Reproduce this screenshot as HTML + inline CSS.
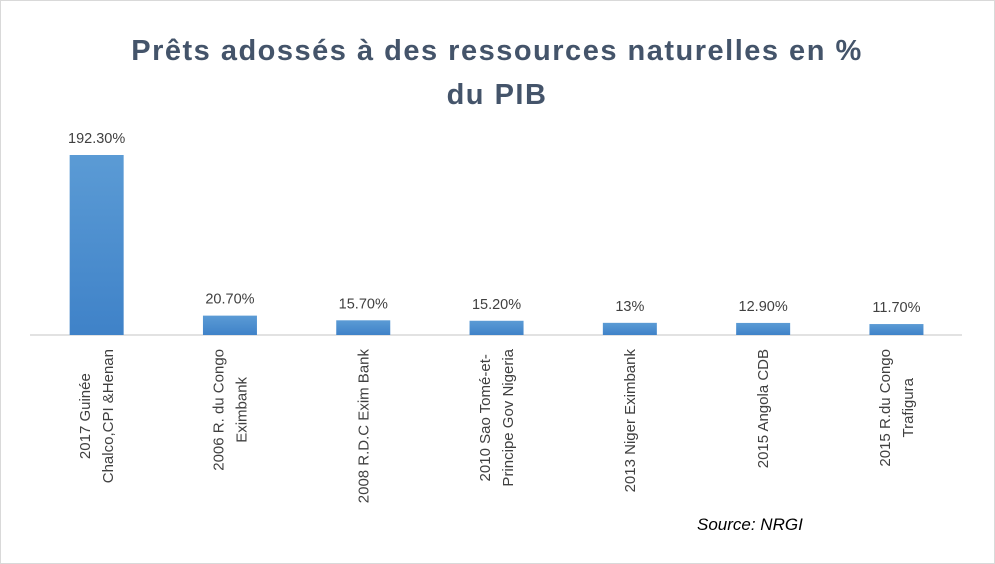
<!DOCTYPE html>
<html><head><meta charset="utf-8"><style>
html,body{margin:0;padding:0;background:#fff}
svg{display:block}
</style></head><body>
<svg width="995" height="564" viewBox="0 0 995 564" id="chart" font-family="'Liberation Sans', sans-serif">
<defs><linearGradient id="g" x1="0" y1="0" x2="0" y2="1"><stop offset="0" stop-color="#5b9bd5"/><stop offset="1" stop-color="#3f82c8"/></linearGradient></defs>
<rect x="0.5" y="0.5" width="994" height="563" fill="#fff" stroke="#d9d9d9"/>
<text x="497" y="60" text-anchor="middle" font-size="29" letter-spacing="1.5" font-weight="bold" fill="#44546a">Prêts adossés à des ressources naturelles en %</text>
<text x="497" y="104" text-anchor="middle" font-size="29" letter-spacing="1.5" font-weight="bold" fill="#44546a">du PIB</text>
<line x1="30" y1="335" x2="962" y2="335" stroke="#d9d9d9" stroke-width="1.5"/>
<text x="697" y="530" font-size="17" font-style="italic" fill="#000">Source: NRGI</text>
<g id="bars"></g>
</svg>
<script>
const categories = [
 ["2017 Guinée","Chalco,CPI &Henan"],
 ["2006 R. du Congo","Eximbank"],
 ["2008 R.D.C Exim Bank"],
 ["2010 Sao Tomé-et-","Principe Gov Nigeria"],
 ["2013 Niger Eximbank"],
 ["2015 Angola CDB"],
 ["2015 R.du Congo","Trafigura"]
];
const values = [192.3, 20.7, 15.7, 15.2, 13, 12.9, 11.7];
const valueLabels = ["192.30%","20.70%","15.70%","15.20%","13%","12.90%","11.70%"];
const NS="http://www.w3.org/2000/svg";
const g=document.getElementById('bars');
const x0=30, step=133.3, bw=54, base=335, scale=180/192.3, labelTop=349;
function xc(i){return x0+step*(i+0.5);}
function y(v){return base-v*scale;}
values.forEach((v,i)=>{
 const r=document.createElementNS(NS,'rect');
 r.setAttribute('x',xc(i)-bw/2);r.setAttribute('y',y(v));
 r.setAttribute('width',bw);r.setAttribute('height',base-y(v));
 r.setAttribute('fill','url(#g)');
 
 
 g.appendChild(r);
 const t=document.createElementNS(NS,'text');
 t.setAttribute('x',xc(i));t.setAttribute('y',y(v)-12);
 t.setAttribute('text-anchor','middle');t.setAttribute('font-size','14.5');t.setAttribute('fill','#404040');
 t.textContent=valueLabels[i];
 
 
 g.appendChild(t);
 const lines=categories[i];
 const els=[];
 lines.forEach((ln,j)=>{
  const c=document.createElementNS(NS,'text');
  c.setAttribute('text-anchor','middle');
  c.setAttribute('font-size','15');c.setAttribute('fill','#404040');
  c.textContent=ln;
  
  
  g.appendChild(c);
  els.push(c);
 });
 let maxLen=0;
 els.forEach(e=>{let l=0;try{l=e.getComputedTextLength();}catch(err){l=e.textContent.length*7.5;} if(!l)l=e.textContent.length*7.5; if(l>maxLen)maxLen=l;});
 els.forEach((c,j)=>{
  const lx=xc(i)+(j-(lines.length-1)/2)*23+5;
  const cy=labelTop+maxLen/2;
  c.setAttribute('transform','translate('+lx+','+cy+') rotate(-90)');
 });
});
</script>
</body></html>
